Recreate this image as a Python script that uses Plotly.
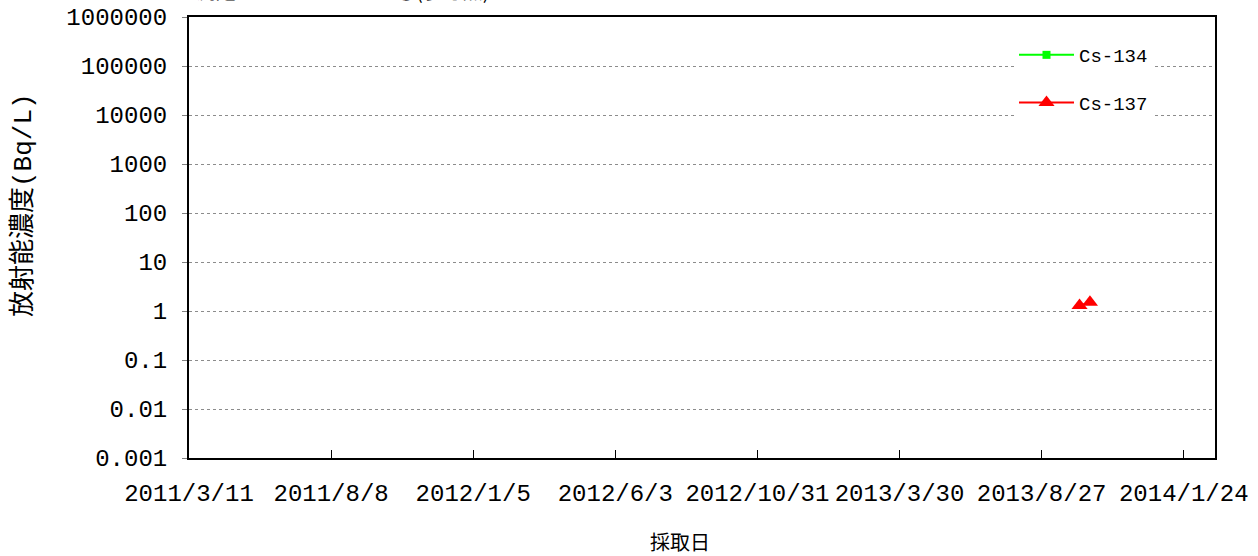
import plotly.graph_objects as go

# Data
cs134_dates = [None]
cs134_values = [None]
cs137_dates = ["2013-10-06", "2013-10-17"]
cs137_values = [1.3, 1.5]

x_tick_dates = ["2011-03-11", "2011-08-08", "2012-01-05", "2012-06-03",
                "2012-10-31", "2013-03-30", "2013-08-27", "2014-01-24"]
x_tick_labels = ["2011/3/11", "2011/8/8", "2012/1/5", "2012/6/3",
                 "2012/10/31", "2013/3/30", "2013/8/27", "2014/1/24"]
y_tick_vals = [0.001, 0.01, 0.1, 1, 10, 100, 1000, 10000, 100000, 1000000]
y_tick_labels = ["0.001", "0.01", "0.1", "1", "10", "100", "1000", "10000", "100000", "1000000"]

CJK = "Noto Sans CJK JP"
MONO = "Liberation Mono, Noto Sans CJK JP"

L, R, T, B = 189, 43, 17, 98
W, H = 1258, 556
PW, PH = W - L - R, H - T - B


def px(x):
    return (x - L) / PW


def py(y):
    return 1 - (y - T) / PH


fig = go.Figure()
fig.add_trace(go.Scatter(
    x=cs134_dates, y=cs134_values, name="Cs-134", mode="lines+markers",
    line=dict(color="#00ff00", width=2),
    marker=dict(symbol="square", color="#00ff00", size=8),
    legendgroup="a",
))
fig.add_trace(go.Scatter(
    x=cs137_dates, y=cs137_values, name="Cs-137", mode="lines+markers",
    line=dict(color="#ff0000", width=2),
    marker=dict(symbol="triangle-up", color="#ff0000", size=14),
    legendgroup="b",
))

fig.update_layout(
    width=W, height=H,
    margin=dict(l=L, r=R, t=T, b=B),
    paper_bgcolor="white", plot_bgcolor="white",
    font=dict(family=MONO, color="black", size=18),
    showlegend=True,
    legend=dict(
        x=px(1014), y=py(36), xanchor="left", yanchor="top",
        bgcolor="white", borderwidth=0,
        font=dict(size=19, family=MONO),
        tracegroupgap=20, traceorder="grouped",
        itemwidth=55,
    ),
    xaxis=dict(
        type="date",
        range=["2011-03-11", "2014-02-26"],
        tickvals=x_tick_dates, ticktext=x_tick_labels,
        ticks="inside", ticklen=8, tickcolor="black", tickwidth=1,
        showgrid=False, zeroline=False,
        showline=True, linecolor="black", linewidth=2, mirror=True,
        tickfont=dict(size=24, family=MONO),
        ticklabelstandoff=12,
        automargin=False,
    ),
    yaxis=dict(
        type="log",
        range=[-3, 6],
        tickvals=y_tick_vals, ticktext=y_tick_labels,
        ticks="outside", ticklen=5, tickcolor="#808080", tickwidth=1,
        showgrid=True, gridcolor="#8c8c8c", griddash="dot", gridwidth=1,
        zeroline=False,
        showline=True, linecolor="black", linewidth=2, mirror=True,
        tickfont=dict(size=24, family=MONO),
        ticklabelstandoff=10,
        automargin=False,
    ),
)

# Axis titles as annotations (offset from axis centre as in the reference)
fig.add_annotation(
    text="放射能濃度(Bq/L)", textangle=-90,
    xref="paper", yref="paper", x=px(23), y=py(205),
    xanchor="center", yanchor="middle", showarrow=False,
    font=dict(size=26, family=MONO, color="black"),
)
fig.add_annotation(
    text="採取日",
    xref="paper", yref="paper", x=px(680), y=py(541),
    xanchor="center", yanchor="middle", showarrow=False,
    font=dict(size=20, family=CJK, color="black"),
)

# Chart title, mostly cut off at the top edge in the reference
fig.add_annotation(
    text="測定ポイント：エリア②(参考点)",
    xref="paper", yref="paper", x=px(194), y=py(7),
    xanchor="left", yanchor="bottom", showarrow=False,
    font=dict(size=20, family=CJK, color="black"),
)

fig.write_html("out.html", config={"displayModeBar": False},
               post_script="document.body.style.margin='0';")
